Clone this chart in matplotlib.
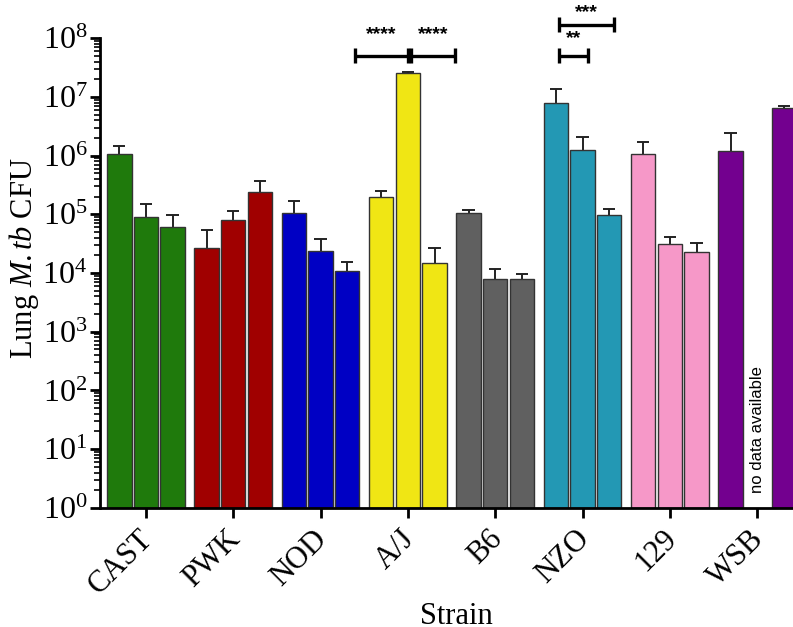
import numpy as np
import matplotlib
matplotlib.use("Agg")
import matplotlib.pyplot as plt
from matplotlib.transforms import ScaledTranslation

plt.rcParams['font.family'] = ['Liberation Serif', 'DejaVu Serif']
plt.rcParams['mathtext.fontset'] = 'custom'
plt.rcParams['mathtext.rm'] = 'Liberation Serif'
plt.rcParams['mathtext.it'] = 'Liberation Serif:italic'

strains = ['CAST', 'PWK', 'NOD', 'A/J', 'B6', 'NZO', '129', 'WSB']
colors = ['#1f7a0c', '#a00000', '#0000c4', '#f0e614', '#606060',
          '#2398b4', '#f698c8', '#73008f']

# log10 CFU, three bars per strain (None = no data)
log_mean = [
    [6.03, 4.95, 4.79],
    [4.43, 4.90, 5.38],
    [5.03, 4.38, 4.04],
    [5.29, 7.40, 4.17],
    [5.03, 3.90, 3.90],
    [6.90, 6.10, 4.99],
    [6.02, 4.49, 4.36],
    [6.08, None, 6.81],
]
log_err_top = [
    [6.17, 5.17, 4.99],
    [4.74, 5.06, 5.57],
    [5.22, 4.58, 4.19],
    [5.40, 7.42, 4.43],
    [5.07, 4.07, 3.99],
    [7.13, 6.32, 5.09],
    [6.23, 4.62, 4.52],
    [6.39, None, 6.85],
]

fig = plt.figure(figsize=(7.93, 6.27), dpi=100)
ax = fig.add_axes([0.126, 0.19, 0.874, 0.749])

offs = [-0.305, 0.0, 0.305]
w = 0.28
for i, (m, e) in enumerate(zip(log_mean, log_err_top)):
    for j in range(3):
        if m[j] is None:
            continue
        x = i + offs[j]
        v = 10 ** m[j]
        top = 10 ** e[j]
        ax.vlines(x, v, top, color='#222222', lw=1.4, zorder=1)
        ax.hlines(top, x - 0.07, x + 0.07, color='#222222', lw=1.4, zorder=1)
        ax.bar(x, v, width=w, bottom=1, color=colors[i],
               edgecolor='#333333', linewidth=1.0, zorder=2)

ax.text(7.0, 1.8, 'no data available', rotation=90, ha='center', va='bottom',
        fontsize=12, family=['Liberation Sans', 'DejaVu Sans'])

# significance brackets
brackets = [
    (2.394, 3.0, 7.70, 8.06, '****'),
    (3.035, 3.54, 7.70, 8.06, '****'),
    (4.73, 5.063, 7.70, 8.00, '**'),
    (4.73, 5.36, 8.23, 8.44, '***'),
]
for x0, x1, yb, ys, lab in brackets:
    y = 10 ** yb
    ax.plot([x0, x1], [y, y], color='black', lw=2.4, clip_on=False,
            solid_capstyle='butt')
    for xx in (x0, x1):
        ax.plot([xx, xx], [10 ** (yb - 0.13), 10 ** (yb + 0.13)],
                color='black', lw=2.4, clip_on=False, solid_capstyle='butt')
    ax.text((x0 + x1) / 2, 10 ** ys, lab, ha='center', va='center',
            fontsize=14, fontweight='bold',
            family=['Liberation Sans', 'DejaVu Sans'])

ax.set_yscale('log')
ax.set_ylim(1, 1e8)
ax.set_xlim(-0.527, 7.41)
ax.set_yticks([10 ** k for k in range(9)])
ax.set_yticklabels([r'$\mathregular{10^{%d}}$' % k for k in range(9)],
                   fontsize=23)
ax.set_xticks(range(len(strains)))
ax.set_xticklabels(strains, rotation=45, ha='right', rotation_mode='anchor',
                   fontsize=22)

for s in ['top', 'right']:
    ax.spines[s].set_visible(False)
for s in ['left', 'bottom']:
    ax.spines[s].set_linewidth(2.0)
ax.tick_params(axis='both', which='major', length=7, width=2.0, pad=2)
ax.tick_params(axis='y', which='minor', length=4, width=1.2)

# nudge the rotated strain names (after tick_params, which resets transforms)
shift = ScaledTranslation(-8 / 100, -4 / 100, fig.dpi_scale_trans)
for lbl in ax.get_xticklabels():
    lbl.set_transform(lbl.get_transform() + shift)

ax.set_ylabel(r'Lung $\mathit{M.tb}$ CFU', fontsize=22)
ax.yaxis.set_label_coords(-0.085, 0.532)
ax.set_xlabel('Strain', fontsize=22)
ax.xaxis.set_label_coords(0.515, -0.2)

fig.savefig('out.png', dpi=100)
